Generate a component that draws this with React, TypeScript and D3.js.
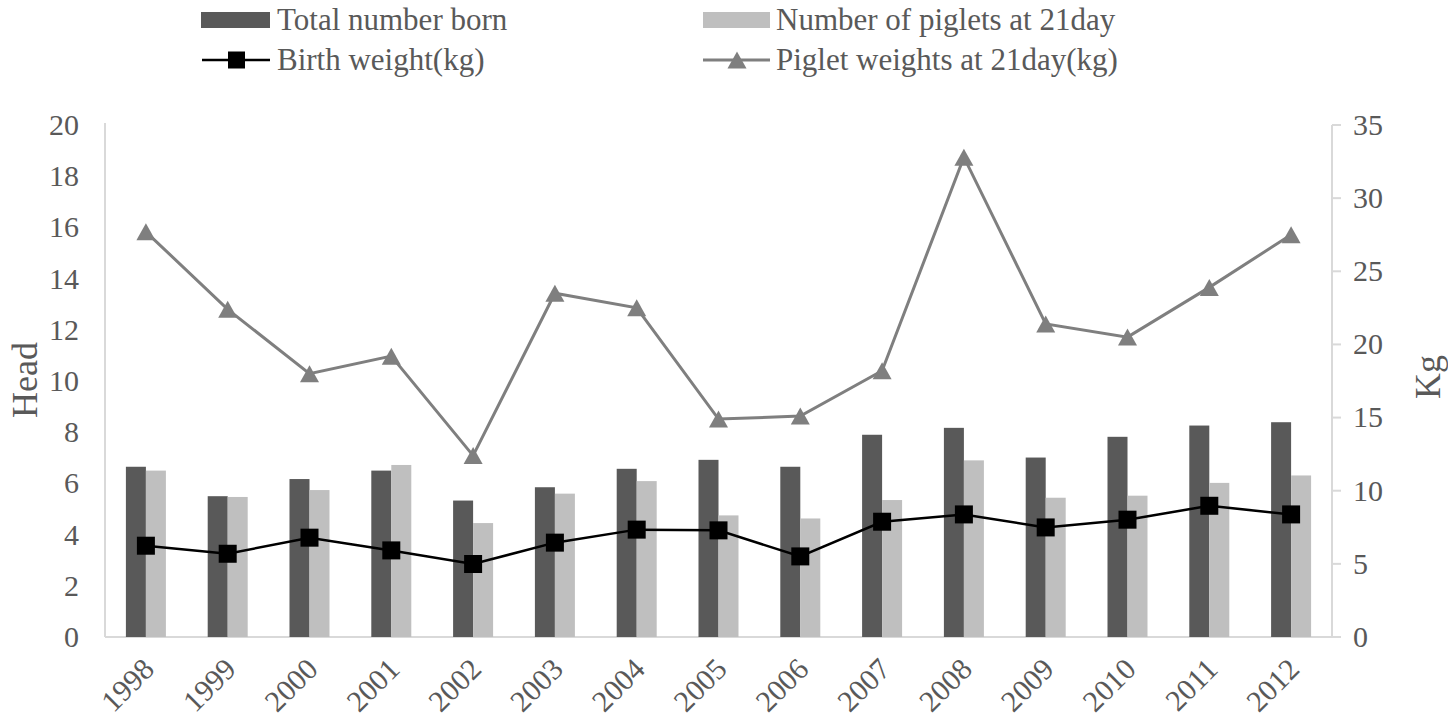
import React from "react";
import * as d3 from "d3";

const years = ["1998","1999","2000","2001","2002","2003","2004","2005","2006","2007","2008","2009","2010","2011","2012"];
const totalBorn = [6.65, 5.5, 6.17, 6.5, 5.33, 5.85, 6.57, 6.92, 6.65, 7.9, 8.17, 7.01, 7.82, 8.26, 8.39];
const piglets21 = [6.5, 5.47, 5.74, 6.72, 4.45, 5.6, 6.09, 4.75, 4.63, 5.35, 6.9, 5.44, 5.52, 6.02, 6.31];
const birthWeight = [6.24, 5.69, 6.79, 5.92, 4.99, 6.45, 7.34, 7.29, 5.51, 7.88, 8.38, 7.49, 8.02, 8.97, 8.38];
const weight21 = [27.7, 22.4, 18.0, 19.2, 12.4, 23.5, 22.5, 14.9, 15.1, 18.2, 32.8, 21.4, 20.5, 23.9, 27.5];
const leftTicks = [0, 2, 4, 6, 8, 10, 12, 14, 16, 18, 20];
const rightTicks = [0, 5, 10, 15, 20, 25, 30, 35];

const FONT = '"Liberation Serif", "Times New Roman", Tinos, serif';
const TEXT = "#595959";
const AXIS = "#d9d9d9";
const DARK = "#595959";
const LIGHT = "#bfbfbf";
const TRI = "#7f7f7f";

const L = 105, R = 1332, T = 125, B = 637;

function triPath(cx: number, cy: number, w: number, h: number) {
  return `M${cx},${cy - h / 2}L${cx + w / 2},${cy + h / 2}L${cx - w / 2},${cy + h / 2}Z`;
}

export default function App() {
  const x = d3.scaleBand<string>().domain(years).range([L, R]).paddingInner(0.511).paddingOuter(0.2555);
  const yL = d3.scaleLinear().domain([0, 20]).range([B, T]);
  const yR = d3.scaleLinear().domain([0, 35]).range([B, T]);
  const bw = x.bandwidth() / 2;
  const cx = (y: string) => (x(y) as number) + x.bandwidth() / 2;

  const lineBirth = d3.line<number>().x((_, i) => cx(years[i])).y((v) => yR(v));
  const line21 = d3.line<number>().x((_, i) => cx(years[i])).y((v) => yR(v));
  const tf = { fontFamily: FONT };

  return (
    <svg width={1448} height={719} style={{ position: "absolute", left: 0, top: 0, background: "#fff", fontFamily: FONT }}>
      <rect x={0} y={0} width={1448} height={719} fill="#fff" />
      {/* legend */}
      <g fill={TEXT} fontSize={31} style={tf}>
        <rect x={201} y={12} width={69} height={16} fill={DARK} />
        <text x={277} y={20} dy="0.33em" style={tf}>Total number born</text>
        <rect x={703} y={12} width={67} height={16} fill={LIGHT} />
        <text x={776} y={20} dy="0.33em" style={tf}>Number of piglets at 21day</text>
        <line x1={202} x2={270} y1={60} y2={60} stroke="#000" strokeWidth={2.5} />
        <rect x={228} y={51.5} width={17} height={17} fill="#000" />
        <text x={277} y={60} dy="0.33em" style={tf}>Birth weight(kg)</text>
        <line x1={703} x2={770} y1={60} y2={60} stroke={TRI} strokeWidth={3} />
        <path d={triPath(737, 60, 19, 17)} fill={TRI} />
        <text x={776} y={60} dy="0.33em" style={tf}>Piglet weights at 21day(kg)</text>
      </g>

      {/* axes */}
      <line x1={L} x2={L} y1={T - 2} y2={B} stroke={AXIS} strokeWidth={2} />
      <line x1={L} x2={R + 9} y1={B} y2={B} stroke={AXIS} strokeWidth={2} />
      <line x1={R} x2={R} y1={T} y2={B} stroke={AXIS} strokeWidth={2} />
      {rightTicks.map((t) => (
        <line key={"rt" + t} x1={R} x2={R + 9} y1={yR(t)} y2={yR(t)} stroke={AXIS} strokeWidth={2} />
      ))}

      {/* tick labels */}
      <g fill={TEXT} fontSize={30} style={tf}>
        {leftTicks.map((t) => (
          <text key={"lt" + t} x={79} y={yL(t)} dy="0.33em" textAnchor="end" style={tf}>{t}</text>
        ))}
        {rightTicks.map((t) => (
          <text key={"rl" + t} x={1353} y={yR(t)} dy="0.33em" textAnchor="start" style={tf}>{t}</text>
        ))}
        {years.map((y) => (
          <text key={"xl" + y} transform={`translate(${cx(y) + 3},${664}) rotate(-45)`} dy="0.33em" textAnchor="end" style={tf}>{y}</text>
        ))}
      </g>

      {/* axis titles */}
      <text transform={`translate(25,${(T + B) / 2 - 1}) rotate(-90)`} textAnchor="middle" dy="0.33em" fontSize={36} fill={TEXT} style={tf}>Head</text>
      <text transform={`translate(1428,${(T + B) / 2 - 4}) rotate(-90)`} textAnchor="middle" dy="0.33em" fontSize={36} fill={TEXT} style={tf}>Kg</text>

      {/* bars */}
      {years.map((y, i) => (
        <g key={"b" + y}>
          <rect x={x(y) as number} y={yL(totalBorn[i])} width={bw} height={B - yL(totalBorn[i])} fill={DARK} />
          <rect x={(x(y) as number) + bw} y={yL(piglets21[i])} width={bw} height={B - yL(piglets21[i])} fill={LIGHT} />
        </g>
      ))}

      {/* lines */}
      <path d={line21(weight21) as string} fill="none" stroke={TRI} strokeWidth={3} />
      {weight21.map((v, i) => (
        <path key={"t" + i} d={triPath(cx(years[i]), yR(v), 19, 17)} fill={TRI} />
      ))}
      <path d={lineBirth(birthWeight) as string} fill="none" stroke="#000" strokeWidth={2.5} />
      {birthWeight.map((v, i) => (
        <rect key={"s" + i} x={cx(years[i]) - 9} y={yR(v) - 9} width={18} height={18} fill="#000" />
      ))}
    </svg>
  );
}
